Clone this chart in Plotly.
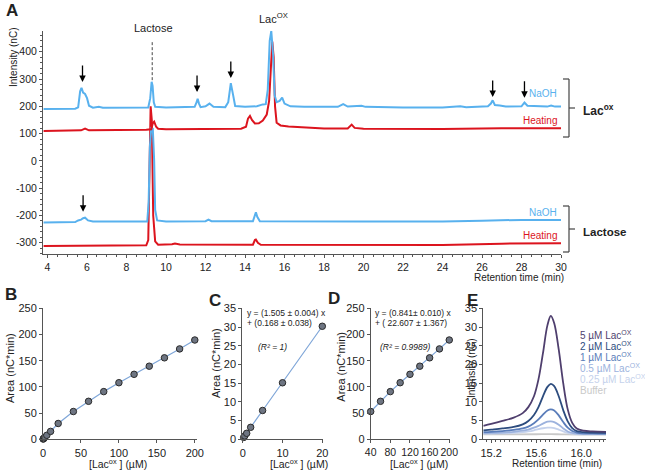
import plotly.graph_objects as go

W, H = 645, 470
def px(x): return x / W
def py(y): return 1 - y / H

# ---------------- Panel A data (retention time, intensity nC) ----------------
laox_naoh = [(3.8,190),(5.4,191),(5.55,196),(5.65,255),(5.72,268),(5.8,250),(5.9,245),(6.0,230),(6.1,202),
             (6.3,195),(6.6,198),(6.8,195),(9.1,196),(9.2,230),(9.27,290),(9.32,275),(9.38,215),(9.45,198),
             (10.0,196),(11.0,197),(11.45,198),(11.55,215),(11.6,228),(11.67,210),(11.75,197),(12.0,200),
             (12.2,210),(12.4,198),(13.0,197),(13.15,215),(13.28,285),(13.4,240),(13.5,201),(14.0,198),
             (14.6,200),(14.9,207),(15.05,208),(15.15,260),(15.25,440),(15.33,476),(15.42,390),(15.5,240),
             (15.6,215),(15.75,220),(15.88,232),(16.0,210),(16.3,200),(17.0,198),(18.7,198),(18.97,208),
             (19.2,199),(19.9,202),(20.1,198),(22.0,196),(24.0,196),(24.9,200),(25.2,197),(26.3,200),
             (26.45,210),(26.54,222),(26.65,205),(26.9,203),(27.2,199),(28.0,200),(28.15,214),(28.3,202),
             (29.3,199),(29.5,203),(29.7,199),(30.0,199)]
laox_heat = [(3.8,110),(5.7,112),(5.9,118),(6.1,112),(9.0,114),(9.25,116),(9.33,138),(9.4,144),(9.5,125),
             (9.6,118),(10.0,116),(13.8,118),(14.05,125),(14.15,155),(14.25,165),(14.35,150),(14.5,137),
             (14.7,138),(14.9,148),(15.1,170),(15.22,220),(15.3,350),(15.38,437),(15.45,380),(15.52,200),
             (15.6,140),(15.8,130),(16.2,126),(17.0,122),(18.0,119),(19.2,119),(19.4,133),(19.55,121),
             (20.0,118),(24.0,117),(27.0,120),(30.0,120)]
lact_naoh = [(3.8,-226),(5.4,-224),(5.55,-218),(5.7,-215),(5.8,-210),(5.9,-208),(6.05,-218),(6.3,-222),
             (9.05,-222),(9.12,-150),(9.18,50),(9.25,120),(9.33,118),(9.4,0),(9.45,-180),(9.55,-218),
             (10.0,-222),(12.0,-221),(12.15,-215),(12.3,-221),(14.4,-221),(14.5,-200),(14.55,-188),
             (14.62,-205),(14.75,-221),(20.0,-222),(24.0,-222),(26.0,-219),(28.0,-216),(30.0,-216)]
lact_heat = [(3.8,-312),(7.0,-311),(9.0,-309),(9.1,-290),(9.17,50),(9.22,200),(9.28,150),(9.35,-200),
             (9.45,-295),(9.6,-307),(10.3,-305),(10.45,-303),(10.7,-306),(14.4,-307),(14.5,-290),
             (14.55,-288),(14.65,-300),(14.8,-307),(24.0,-308),(27.0,-303),(30.0,-302)]
arrows_top = [(5.77,289),(11.57,252),(13.28,304),(26.54,234),(28.15,231)]
arrows_bottom = [(5.80,-186)]
a_xticks = [4,6,8,10,12,14,16,18,20,22,24,26,28,30]
a_yticks = [-300,-200,-100,0,100,200,300,400]

# ---------------- Panels B-D data (calibration) ----------------
conc_low = [0.25, 0.5, 1, 2, 5, 10, 20]
area_low = [0.5, 0.9, 1.6, 3.2, 7.7, 15.1, 30.2]
conc_high = [40, 60, 80, 100, 120, 140, 160, 180, 200]
area_high = [53, 72.5, 91, 108, 124, 139.5, 155.5, 172.5, 189.5]

# ---------------- Panel E data ----------------
e_5uM = [(15.13,3.6),(15.2,4.1),(15.3,4.9),(15.4,5.8),(15.48,7.0),(15.53,8.6),(15.58,11.5),(15.62,16),
         (15.66,23),(15.7,30.5),(15.73,33),(15.76,31),(15.8,24),(15.84,15),(15.88,8),(15.92,4.4),
         (15.96,2.9),(16.02,2.3),(16.1,2.1),(16.22,2.0)]
e_2uM = [(15.13,2.4),(15.2,2.6),(15.3,2.9),(15.4,3.3),(15.48,4.0),(15.53,4.9),(15.58,6.5),(15.62,8.6),
         (15.66,11.5),(15.7,14.0),(15.73,14.8),(15.76,14.2),(15.8,11.5),(15.84,7.8),(15.88,4.8),(15.92,3.0),
         (15.96,2.2),(16.02,1.9),(16.1,1.8),(16.22,1.7)]
e_1uM = [(15.13,1.9),(15.2,2.0),(15.3,2.2),(15.4,2.5),(15.48,2.9),(15.53,3.4),(15.58,4.3),(15.62,5.3),
         (15.66,6.6),(15.7,7.7),(15.73,8.0),(15.76,7.7),(15.8,6.4),(15.84,4.6),(15.88,3.1),(15.92,2.2),
         (15.96,1.8),(16.02,1.6),(16.1,1.6),(16.22,1.5)]
e_05uM = [(15.13,1.6),(15.2,1.7),(15.3,1.8),(15.4,2.0),(15.48,2.3),(15.53,2.6),(15.58,3.1),(15.62,3.6),
          (15.66,4.2),(15.7,4.7),(15.73,4.8),(15.76,4.6),(15.8,3.9),(15.84,2.9),(15.88,2.1),(15.92,1.7),
          (15.96,1.5),(16.02,1.4),(16.1,1.4),(16.22,1.4)]
e_025uM = [(15.13,1.5),(15.2,1.55),(15.3,1.6),(15.4,1.7),(15.48,1.9),(15.53,2.1),(15.58,2.4),(15.62,2.7),
           (15.66,2.95),(15.7,3.1),(15.73,3.1),(15.76,3.0),(15.8,2.6),(15.84,2.1),(15.88,1.7),(15.92,1.5),
           (15.96,1.4),(16.02,1.35),(16.1,1.35),(16.22,1.35)]
e_buffer = [(15.13,1.3),(15.4,1.3),(15.6,1.35),(15.73,1.4),(15.85,1.3),(16.22,1.25)]
e_labels = ["5 µM Lac<sup>OX</sup>", "2 µM Lac<sup>OX</sup>", "1 µM Lac<sup>OX</sup>",
            "0.5 µM Lac<sup>OX</sup>", "0.25 µM Lac<sup>OX</sup>", "Buffer"]

BLUE = "#58B1EE"
RED = "#DC141E"
AX = "#555555"
TXT = "#222222"
FONT = "Arial, Liberation Sans, sans-serif"
FIT = "#7FA6D8"
MFILL = "#6E7582"
MLINE = "#2A2A2A"
E_COLORS = ["#4F3F6E", "#2D4C7E", "#5A7DBA", "#9CB2DD", "#C5D2EC", "#C9C9C9"]

def unzip(p):
    return [a for a, b in p], [b for a, b in p]

fig = go.Figure()

# Panel A traces (bottom first)
for data, col in [(lact_heat, RED), (lact_naoh, BLUE), (laox_heat, RED), (laox_naoh, BLUE)]:
    x, y = unzip(data)
    fig.add_trace(go.Scatter(x=x, y=y, mode="lines", line=dict(color=col, width=2),
                             xaxis="x", yaxis="y", showlegend=False, hoverinfo="skip"))

mk = dict(size=6.5, color=MFILL, line=dict(color=MLINE, width=1))
# Panel B
fig.add_trace(go.Scatter(x=conc_low + conc_high, y=area_low + area_high, mode="lines+markers",
                         line=dict(color=FIT, width=1.2), marker=mk,
                         xaxis="x2", yaxis="y2", showlegend=False, cliponaxis=False))
# Panel C
fig.add_trace(go.Scatter(x=conc_low, y=area_low, mode="lines+markers",
                         line=dict(color=FIT, width=1.2), marker=mk,
                         xaxis="x3", yaxis="y3", showlegend=False, cliponaxis=False))
# Panel D
fig.add_trace(go.Scatter(x=conc_high, y=area_high, mode="lines+markers",
                         line=dict(color=FIT, width=1.2), marker=mk,
                         xaxis="x4", yaxis="y4", showlegend=False, cliponaxis=False))
# Panel E
for data, col in zip([e_buffer, e_025uM, e_05uM, e_1uM, e_2uM, e_5uM], E_COLORS[::-1]):
    x, y = unzip(data)
    fig.add_trace(go.Scatter(x=x, y=y, mode="lines", line=dict(color=col, width=1.8, shape="spline"),
                             xaxis="x5", yaxis="y5", showlegend=False, hoverinfo="skip"))

def axis(domain, rng, anchor, tickvals=None, dtick=None, minor=None, size=10.5, ticklen=3):
    d = dict(domain=domain, range=rng, anchor=anchor, showgrid=False, zeroline=False, automargin=False,
             showline=True, linecolor=AX, linewidth=1, ticks="outside", ticklen=ticklen, tickangle=0,
             tickcolor=AX, tickwidth=1, tickfont=dict(size=size, color=TXT, family=FONT))
    if tickvals is not None:
        d["tickvals"] = tickvals
        d["ticktext"] = [str(v) for v in tickvals]
    if dtick is not None:
        d["dtick"] = dtick
        d["tick0"] = 0
    if minor is not None:
        d["minor"] = dict(dtick=minor, ticks="outside", ticklen=2, tickcolor=AX)
    return d

yB = [py(439.3), py(308.3)]
fig.update_layout(
    template="none",
    width=W, height=H, margin=dict(l=0, r=0, t=0, b=0, pad=0),
    paper_bgcolor="white", plot_bgcolor="white",
    font=dict(family=FONT, color=TXT),
    xaxis=axis([px(43), px(561)], [3.77, 30.0], "y", tickvals=a_xticks, minor=0.5, ticklen=3),
    yaxis=axis([py(254), py(30.7)], [-341, 477], "x", tickvals=a_yticks, minor=20, ticklen=3),
    xaxis2=axis([px(43), px(196.7)], [0, 202.5], "y2", dtick=50, size=11),
    yaxis2=axis(yB, [0, 250], "x2", dtick=50, size=11),
    xaxis3=axis([px(242.3), px(323.3)], [-0.1, 20.25], "y3", dtick=10, size=11),
    yaxis3=axis(yB, [0, 35], "x3", dtick=5, size=11),
    xaxis4=axis([px(370.7), px(450)], [40, 201.5], "y4", tickvals=[40, 80, 120, 160, 200], size=10.5),
    yaxis4=axis(yB, [0, 250], "x4", dtick=50, size=11),
    xaxis5=axis([px(483.3), px(606)], [15.13, 16.22], "y5", tickvals=[15.2, 15.6, 16.0], minor=0.04, size=11),
    yaxis5=axis(yB, [0, 35], "x5", dtick=5, size=11),
)
fig.layout.xaxis5.ticktext = ["15.2", "15.6", "16.0"]

ann = []
def ptext(x, y, text, size=10, color=TXT, xanchor="center", angle=0, bold=False):
    if bold:
        text = "<b>" + text + "</b>"
    ann.append(dict(xref="paper", yref="paper", x=px(x), y=py(y), text=text, showarrow=False,
                    xanchor=xanchor, yanchor="middle", textangle=angle,
                    font=dict(size=size, color=color, family=FONT)))

# Panel letters
ptext(12, 11, "A", 17, bold=True)
ptext(11, 294, "B", 17, bold=True)
ptext(215, 300, "C", 17, bold=True)
ptext(334, 298, "D", 17, bold=True)
ptext(473, 300, "E", 17, bold=True)

# Panel A texts
ptext(14, 58, "Intensity (nC)", 10, angle=-90)
ptext(566, 277, "Retention time (min)", 10, xanchor="right")
ptext(153, 28, "Lactose", 11)
ptext(273, 18, "Lac<sup>OX</sup>", 11)
ptext(559, 93, "NaOH", 10, color=BLUE, xanchor="right")
ptext(559, 121, "Heating", 10, color=RED, xanchor="right")
ptext(559, 212, "NaOH", 10, color=BLUE, xanchor="right")
ptext(559, 236, "Heating", 10, color=RED, xanchor="right")
ptext(581, 110, "Lac<sup>ox</sup>", 12, xanchor="left", bold=True)
ptext(581, 232, "Lactose", 11.5, xanchor="left", bold=True)

for x, y in arrows_top + arrows_bottom:
    ann.append(dict(xref="x", yref="y", x=x, y=y, ax=0, ay=-18, text="", showarrow=True,
                    arrowhead=2, arrowsize=1, arrowwidth=1.3, arrowcolor="black"))

# Panels B-E titles
XT = "[Lac<sup>ox</sup> ] (µM)"
ptext(10, 368, "Area (nC*min)", 11, angle=-90)
ptext(117.5, 463, XT, 10.5)
ptext(216, 363, "Area (nC*min)", 11, angle=-90)
ptext(299, 463, XT, 10.5)
ptext(340.7, 367, "Area (nC*min)", 11, angle=-90)
ptext(419, 463, XT, 10.5)
ptext(471, 369, "Intensity (nC)", 10, angle=-90)
ptext(556.5, 463, "Retention time (min)", 10)

# Fit annotations
ptext(245, 313, "y = (1.505 ± 0.004) x", 8.5, xanchor="left")
ptext(245, 323, "+ (0.168 ± 0.038)", 8.5, xanchor="left")
ptext(256, 347, "<i>(R² = 1)</i>", 8.5, xanchor="left")
ptext(373, 313, "y = (0.841± 0.010) x", 8.5, xanchor="left")
ptext(373, 323, "+ ( 22.607 ± 1.367)", 8.5, xanchor="left")
ptext(378, 347, "<i>(R² = 0.9989)</i>", 8.5, xanchor="left")

# Panel E labels
for k, (lab, col) in enumerate(zip(e_labels, E_COLORS)):
    ptext(578, 335 + 11 * k, lab, 10, color=col, xanchor="left")

fig.update_layout(annotations=ann)

# shapes: dashed lactose marker and brackets
shapes = [dict(type="line", xref="x", yref="y", x0=9.3, x1=9.3, y0=435, y1=290,
               line=dict(color="#444", width=1, dash="3px,2px"))]
def bracket(y0, y1, ym):
    out = []
    for (a, b, c, d) in [(563, y0, 569, y0), (569, y0, 569, y1), (563, y1, 569, y1), (569, ym, 575, ym)]:
        out.append(dict(type="line", xref="paper", yref="paper", x0=px(a), y0=py(b), x1=px(c), y1=py(d),
                        line=dict(color="#444", width=1.2)))
    return out
shapes += bracket(79, 137, 108)
shapes += bracket(206, 252, 229)
fig.update_layout(shapes=shapes)

fig.write_html("out.html", config={"displayModeBar": False, "staticPlot": True},
               post_script="document.body.style.margin='0';document.body.style.overflow='hidden';")
